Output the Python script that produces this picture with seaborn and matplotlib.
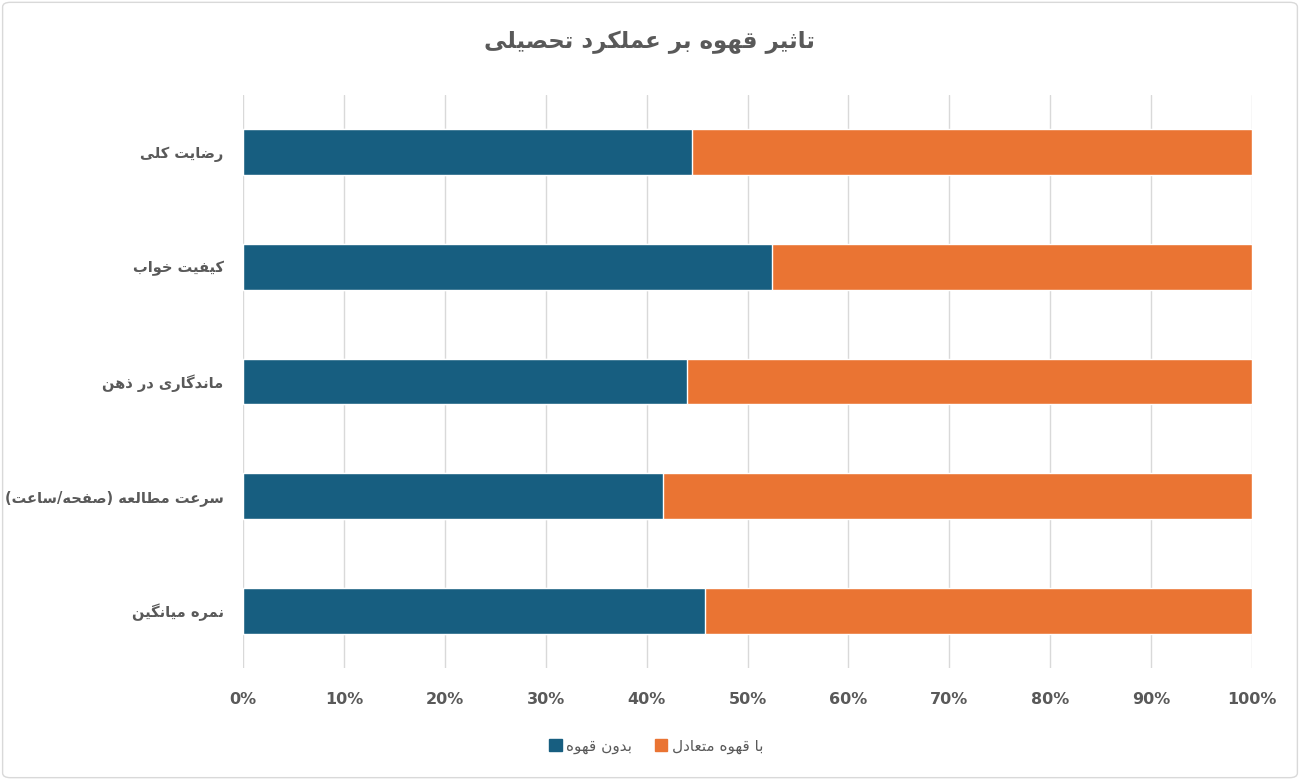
import matplotlib
matplotlib.use("Agg")
import matplotlib.pyplot as plt
import seaborn as sns
import pandas as pd
from matplotlib.patches import FancyBboxPatch, Patch

# data, in display order (top to bottom)
categories = ["رضایت کلی", "کیفیت خواب", "ماندگاری در ذهن", "سرعت مطالعه (صفحه/ساعت)", "نمره میانگین"]
no_coffee = [44.5, 52.4, 44.0, 41.6, 45.8]        # بدون قهوه (%)
moderate_coffee = [55.5, 47.6, 56.0, 58.4, 54.2]  # با قهوه متعادل (%)
series_names = ["بدون قهوه", "با قهوه متعادل"]
title = "تاثیر قهوه بر عملکرد تحصیلی"
x_ticks = [0, 10, 20, 30, 40, 50, 60, 70, 80, 90, 100]

BLUE = "#175E80"
ORANGE = "#EA7433"
TEXT = "#595959"

# simple arabic/persian shaping (matplotlib has no shaping / bidi)
# isolated, final, initial, medial
FORMS = {
    'ا': ('\uFE8D', '\uFE8E', None, None),
    'آ': ('\uFE81', '\uFE82', None, None),
    'ب': ('\uFE8F', '\uFE90', '\uFE91', '\uFE92'),
    'پ': ('\uFB56', '\uFB57', '\uFB58', '\uFB59'),
    'ت': ('\uFE95', '\uFE96', '\uFE97', '\uFE98'),
    'ث': ('\uFE99', '\uFE9A', '\uFE9B', '\uFE9C'),
    'ج': ('\uFE9D', '\uFE9E', '\uFE9F', '\uFEA0'),
    'چ': ('\uFB7A', '\uFB7B', '\uFB7C', '\uFB7D'),
    'ح': ('\uFEA1', '\uFEA2', '\uFEA3', '\uFEA4'),
    'خ': ('\uFEA5', '\uFEA6', '\uFEA7', '\uFEA8'),
    'د': ('\uFEA9', '\uFEAA', None, None),
    'ذ': ('\uFEAB', '\uFEAC', None, None),
    'ر': ('\uFEAD', '\uFEAE', None, None),
    'ز': ('\uFEAF', '\uFEB0', None, None),
    'ژ': ('\uFB8A', '\uFB8B', None, None),
    'س': ('\uFEB1', '\uFEB2', '\uFEB3', '\uFEB4'),
    'ش': ('\uFEB5', '\uFEB6', '\uFEB7', '\uFEB8'),
    'ص': ('\uFEB9', '\uFEBA', '\uFEBB', '\uFEBC'),
    'ض': ('\uFEBD', '\uFEBE', '\uFEBF', '\uFEC0'),
    'ط': ('\uFEC1', '\uFEC2', '\uFEC3', '\uFEC4'),
    'ظ': ('\uFEC5', '\uFEC6', '\uFEC7', '\uFEC8'),
    'ع': ('\uFEC9', '\uFECA', '\uFECB', '\uFECC'),
    'غ': ('\uFECD', '\uFECE', '\uFECF', '\uFED0'),
    'ف': ('\uFED1', '\uFED2', '\uFED3', '\uFED4'),
    'ق': ('\uFED5', '\uFED6', '\uFED7', '\uFED8'),
    'ک': ('\uFB8E', '\uFB8F', '\uFB90', '\uFB91'),
    'گ': ('\uFB92', '\uFB93', '\uFB94', '\uFB95'),
    'ل': ('\uFEDD', '\uFEDE', '\uFEDF', '\uFEE0'),
    'م': ('\uFEE1', '\uFEE2', '\uFEE3', '\uFEE4'),
    'ن': ('\uFEE5', '\uFEE6', '\uFEE7', '\uFEE8'),
    'ه': ('\uFEE9', '\uFEEA', '\uFEEB', '\uFEEC'),
    'و': ('\uFEED', '\uFEEE', None, None),
    'ی': ('\uFBFC', '\uFBFD', '\uFBFE', '\uFBFF'),
}
MIRROR = {'(': ')', ')': '('}


def shape(text):
    out = []
    i = 0
    n = len(text)
    while i < n:
        c = text[i]
        if c not in FORMS:
            out.append(MIRROR.get(c, c))
            i += 1
            continue
        prev = text[i - 1] if i > 0 else ''
        joins_prev = prev in FORMS and FORMS[prev][2] is not None
        # lam + alef ligature
        if c == 'ل' and i + 1 < n and text[i + 1] == 'ا':
            out.append('\uFEFC' if joins_prev else '\uFEFB')
            i += 2
            continue
        nxt = text[i + 1] if i + 1 < n else ''
        joins_next = FORMS[c][2] is not None and nxt in FORMS
        iso, fin, ini, med = FORMS[c]
        if joins_prev and joins_next:
            out.append(med)
        elif joins_prev:
            out.append(fin)
        elif joins_next:
            out.append(ini)
        else:
            out.append(iso)
        i += 1
    return ''.join(reversed(out))


df = pd.DataFrame({"category": categories, "no_coffee": no_coffee,
                   "moderate": moderate_coffee})
df["total"] = df["no_coffee"] + df["moderate"]

sns.set_style("white")
plt.rcParams['font.family'] = ['DejaVu Sans']

fig = plt.figure(figsize=(13, 7.8), dpi=100)
ax = fig.add_axes([243 / 1300, 1 - 668 / 780, (1252 - 243) / 1300, (668 - 95) / 780])

sns.barplot(data=df, x="total", y="category", color=ORANGE, width=0.4,
            saturation=1, ax=ax, orient="h")
sns.barplot(data=df, x="no_coffee", y="category", color=BLUE, width=0.4,
            saturation=1, ax=ax, orient="h")

ax.set_xlim(0, 100)
ax.set_xticks(x_ticks)
ax.set_xticklabels(["%d%%" % t for t in x_ticks], fontsize=11.5,
                   fontweight="bold", color=TEXT)
ax.set_yticks(range(len(categories)))
ax.set_yticklabels([shape(c) for c in categories], fontsize=10.5,
                   fontweight="bold", color=TEXT)
ax.tick_params(axis="both", length=0)
ax.tick_params(axis="x", pad=17)
ax.tick_params(axis="y", pad=14)
ax.set_xlabel("")
ax.set_ylabel("")
for s in ax.spines.values():
    s.set_visible(False)
ax.xaxis.grid(True, color="#D9D9D9", lw=1)
ax.set_axisbelow(True)

fig.text(0.5, 1 - 42 / 780, shape(title), ha="center", va="center",
         fontsize=16.5, fontweight="bold", color=TEXT)

handles = [Patch(color=BLUE, label=shape(series_names[0])),
           Patch(color=ORANGE, label=shape(series_names[1]))]
fig.legend(handles=handles, loc="center", bbox_to_anchor=(0.505, 1 - 746 / 780),
           ncol=2, frameon=False, markerfirst=True, fontsize=11,
           labelcolor=TEXT, handlelength=0.8, handleheight=0.8,
           handletextpad=0.3, columnspacing=1.5)

fig.patches.append(FancyBboxPatch((0.002, 0.003), 0.996, 0.994,
                                  boxstyle="round,pad=0,rounding_size=0.006",
                                  transform=fig.transFigure, fill=False,
                                  ec="#D9D9D9", lw=1))

fig.savefig("out.png", dpi=100)
